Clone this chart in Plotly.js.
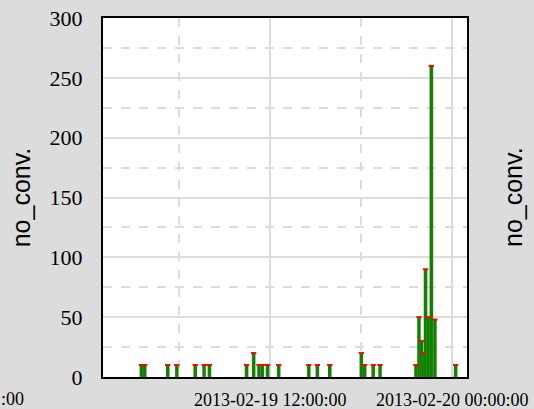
<!DOCTYPE html>
<html>
<head>
<meta charset="utf-8">
<script src="https://cdn.plot.ly/plotly-3.0.1.min.js"></script>
<style>html,body{margin:0;padding:0;background:#dcdcdc;}#chart{width:534px;height:409px;}</style>
</head>
<body>
<div id="chart"></div>
<script>
const times = ['2013-02-19 03:30','2013-02-19 03:43','2013-02-19 05:14','2013-02-19 05:50','2013-02-19 07:03','2013-02-19 07:38','2013-02-19 07:59','2013-02-19 10:26','2013-02-19 10:54','2013-02-19 11:15','2013-02-19 11:28','2013-02-19 11:49','2013-02-19 12:33','2013-02-19 14:32','2013-02-19 15:06','2013-02-19 15:55','2013-02-19 18:00','2013-02-19 18:13','2013-02-19 18:47','2013-02-19 19:14','2013-02-19 21:36','2013-02-19 21:48','2013-02-19 21:58','2013-02-19 22:05','2013-02-19 22:14','2013-02-19 22:25','2013-02-19 22:37','2013-02-19 22:51','2013-02-20 00:13'];
const noConv = [10,10,10,10,10,10,10,10,20,10,10,10,10,10,10,10,20,10,10,10,10,50,30,20,90,50,260,48,10];
const xRange = ['2013-02-19 00:58','2013-02-20 00:58'];
const yTitle = 'no_conv.';

const binMs = 820000;
const traces = [
  {type:'bar', x:times, y:noConv, width:binMs, marker:{color:'#008800', line:{color:'rgba(255,80,80,0.45)', width:0.5}}, hoverinfo:'x+y', showlegend:false},
  {type:'scatter', mode:'markers', x:times, y:noConv, marker:{symbol:'line-ew', size:3.8, color:'#ff0000', line:{color:'#ff0000', width:2}}, hoverinfo:'skip', showlegend:false}
];
const layout = {
  width:534, height:409,
  paper_bgcolor:'#dcdcdc', plot_bgcolor:'#ffffff',
  margin:{l:103, r:67, t:18, b:32, pad:0},
  bargap:0,
  xaxis:{type:'date', range:xRange, dtick:43200000, tick0:'2013-02-19 00:00', tickformat:'%Y-%m-%d %H:%M:%S',
    showgrid:true, gridcolor:'#dcdcdc', gridwidth:2,
    minor:{dtick:21600000, tick0:'2013-02-19 00:00', showgrid:true, gridcolor:'#dcdcdc', gridwidth:2, griddash:'dash'},
    showline:true, mirror:true, linecolor:'#000', linewidth:2, ticks:'', ticklabelstandoff:5,
    tickfont:{family:'Liberation Serif', size:18, color:'#000'}, zeroline:false, fixedrange:true},
  yaxis:{range:[0,300], dtick:50, tick0:0,
    showgrid:true, gridcolor:'#dcdcdc', gridwidth:2,
    minor:{dtick:25, showgrid:true, gridcolor:'#dcdcdc', gridwidth:2, griddash:'dash'},
    showline:true, mirror:true, linecolor:'#000', linewidth:2, ticks:'', ticklabelstandoff:14,
    tickfont:{family:'Liberation Serif', size:22, color:'#000'}, zeroline:false,
    title:{text:yTitle, font:{family:'Liberation Sans', size:25, color:'#000'}, standoff:12}, fixedrange:true},
  annotations:[
    {xref:'paper', yref:'paper', x:1.125, y:0.5, text:yTitle, textangle:-90, showarrow:false, xanchor:'center', yanchor:'middle', font:{family:'Liberation Sans', size:25, color:'#000'}},
    {xref:'paper', yref:'paper', x:-0.283, y:-0.06, text:':00', showarrow:false, xanchor:'left', yanchor:'middle', borderpad:0, font:{family:'Liberation Serif', size:18, color:'#000'}}
  ]
};
Plotly.newPlot('chart', traces, layout, {displayModeBar:false, staticPlot:true});
</script>
</body>
</html>
